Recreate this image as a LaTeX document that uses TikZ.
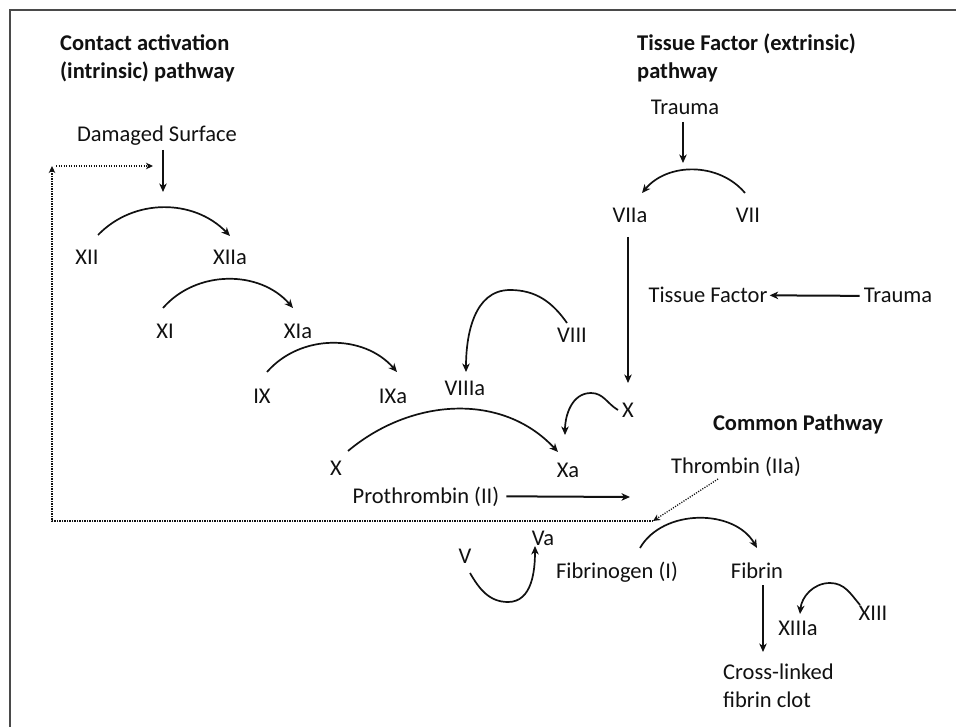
\documentclass[tikz,border=0pt]{standalone}
\usepackage{fontspec}
\setmainfont{Carlito}
\usetikzlibrary{arrows.meta}
\definecolor{ink}{HTML}{111111}
\definecolor{framec}{HTML}{4A4A4A}
\begin{document}
\begin{tikzpicture}[x=1pt,y=1pt,
  lbl/.style={anchor=base, inner sep=0pt, text=ink, font=\fontsize{22.5}{28}\selectfont},
  bold lbl/.style={lbl, font=\fontsize{22.5}{28}\selectfont\bfseries},
  ttl/.style={anchor=north west, inner sep=0pt, align=left, text=ink, font=\fontsize{22.5}{28}\selectfont\bfseries},
  multi/.style={anchor=north west, inner sep=0pt, align=left, text=ink, font=\fontsize{22.5}{28}\selectfont},
  arr/.style={draw=ink, line width=1.7pt, -{Stealth[length=8.5pt,width=7.5pt,inset=2.5pt]}},
  thick arr/.style={arr, line width=2pt},
  dotline/.style={draw=ink, line width=1.3pt, dash pattern=on 1.1pt off 1.4pt},
  dotarr/.style={dotline, -{Stealth[length=7pt,width=6.5pt,inset=2pt]}},
  framel/.style={draw=framec, line width=2pt}
]
\useasboundingbox (0,0) rectangle (956,-727);
\clip (0,0) rectangle (956,-727);
\fill[white] (0,0) rectangle (956,-727);
\draw[framel] (10,-740) -- (10,-10.5) -- (970,-10.5);

% titles
\node[ttl] (t1) at (60,-34) {Contact activation\\(intrinsic) pathway};
\node[ttl] (t2) at (637,-34) {Tissue Factor (extrinsic)\\pathway};
\node[bold lbl] (cp) at (798,-430) {Common Pathway};

% intrinsic
\node[lbl] (ds) at (157,-142) {Damaged Surface};
\node[lbl] (xii) at (87,-265) {XII};
\node[lbl] (xiia) at (230,-265) {XIIa};
\node[lbl] (xi) at (165,-338) {XI};
\node[lbl] (xia) at (298,-338) {XIa};
\node[lbl] (ix) at (262,-403) {IX};
\node[lbl] (ixa) at (393,-403) {IXa};
\node[lbl] (viiia) at (465,-395) {VIIIa};
\node[lbl] (viii) at (572,-342) {VIII};
\node[lbl] (xl) at (336,-475) {X};
\node[lbl] (xa) at (568,-477) {Xa};
\node[lbl] (xr) at (628,-417) {X};

% extrinsic
\node[lbl] (tr1) at (685,-115) {Trauma};
\node[lbl] (viia) at (630,-223) {VIIa};
\node[lbl] (vii) at (748,-223) {VII};
\node[lbl] (tf) at (708,-303) {Tissue Factor};
\node[lbl] (tr2) at (898,-303) {Trauma};

% common
\node[lbl] (thr) at (736,-473) {Thrombin (IIa)};
\node[lbl] (pro) at (426,-503) {Prothrombin (II)};
\node[lbl] (va) at (543,-545) {Va};
\node[lbl] (v) at (465,-563) {V};
\node[lbl] (fbg) at (617,-578) {Fibrinogen (I)};
\node[lbl] (fib) at (757,-578) {Fibrin};
\node[lbl] (xiiia) at (798,-635) {XIIIa};
\node[lbl] (xiii) at (873,-620) {XIII};
\node[multi] (clot) at (723,-664) {Cross-linked\\fibrin clot};

\coordinate (proend) at (630,-497);
\coordinate (dA) at (653,-521);
\coordinate (lp1) at (52,-521);
\coordinate (lp2) at (52,-166);
\coordinate (lp3) at (56,-166);
\coordinate (lp4) at (153,-166);

% straight arrows
\draw[thick arr] ([shift={(6,-8)}]ds.base) -- ++(0,-42);
\draw[thick arr] ([shift={(-2,-7)}]tr1.base) -- ++(0,-41);
\draw[thick arr] ([shift={(-2,-14)}]viia.base) -- ([shift={(0,34)}]xr.base);
\draw[thick arr] ([xshift=-4]tr2.west) -- ([xshift=2]tf.east);
\draw[thick arr] ([xshift=7]pro.east) -- (proend);
\draw[thick arr] ([shift={(6,-7)}]fib.base) -- ++(0,-67);

% curved arrows
\draw[arr] ([shift={(11,30)}]xii.base) to[out=46,in=134] ([shift={(0,29)}]xiia.base);
\draw[arr] ([shift={(-2,30)}]xi.base) to[out=49,in=131] ([shift={(-5,30)}]xia.base);
\draw[arr] ([shift={(5,31)}]ix.base) to[out=49,in=131] ([shift={(4,31)}]ixa.base);
\draw[arr] ([shift={(-5,19)}]viii.base) to[out=125,in=0] (510,-290) to[out=180,in=90] ([shift={(1,23)}]viiia.base);
\draw[arr] ([shift={(-10,7)}]xr.base) to[out=150,in=0] (591,-393) to[out=180,in=90] ([shift={(-3,42)}]xa.base);
\draw[arr] ([shift={(12,24)}]xl.base) to[out=40,in=133] ([shift={(-10,25)}]xa.base);
\draw[arr] ([shift={(-3,30)}]vii.base) to[out=130,in=50] ([shift={(12,30)}]viia.base);
\draw[arr] ([shift={(5,-10)}]v.base) to[out=-60,in=180] (508,-602) to[out=0,in=-90] ([shift={(-8,-1)}]va.base);
\draw[arr] ([shift={(23,30)}]fbg.base) to[out=60,in=120] ([shift={(0,30)}]fib.base);
\draw[arr] ([shift={(-13,15)}]xiii.base) to[out=130,in=0] (830,-583) to[out=180,in=85] ([shift={(2,21)}]xiiia.base);

% dotted feedback
\draw[dotarr] ([shift={(-18,-6)}]thr.base) -- (dA);
\draw[dotarr] (dA) -- (lp1) -- (lp2);
\draw[dotarr] (lp3) -- (lp4);
\end{tikzpicture}
\end{document}
